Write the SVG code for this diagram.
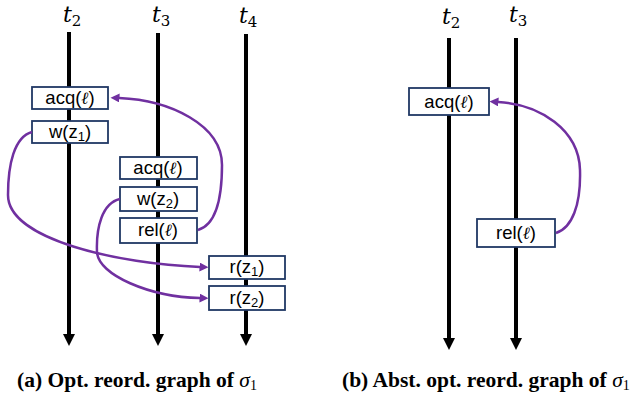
<svg xmlns="http://www.w3.org/2000/svg" width="640" height="398" viewBox="0 0 640 398">
<style>
.tl{stroke:#000;stroke-width:4;fill:none}
.box{fill:#fff;stroke:#203864;stroke-width:1.8}
.bt{font-family:"Liberation Sans","Noto Sans",sans-serif;font-size:18.5px;fill:#000;text-anchor:middle}
.ell{font-family:"DejaVu Serif","Liberation Serif",serif;font-style:italic;font-size:17px}
.sub{font-size:13px}
.th{font-family:"DejaVu Serif","Liberation Serif",serif;font-style:italic;font-size:22px;fill:#000}
.ths{font-size:15px;font-style:normal}
.cap{font-family:"Liberation Serif","DejaVu Serif",serif;font-weight:bold;font-size:21.5px;fill:#000}
.edge{stroke:#7030A0;stroke-width:2.5;fill:none;marker-end:url(#pa)}
</style>
<defs>
<marker id="ba" markerUnits="userSpaceOnUse" markerWidth="12" markerHeight="12" refX="0" refY="6" orient="auto">
<path d="M0,0 L12,6 L0,12 z" fill="#000"/>
</marker>
<marker id="pa" markerUnits="userSpaceOnUse" markerWidth="10" markerHeight="10" refX="0.5" refY="4.5" orient="auto">
<path d="M0,0 L9,4.5 L0,9 z" fill="#7030A0"/>
</marker>
</defs>

<g id="timelines">
<line class="tl" x1="69" y1="32" x2="69" y2="334" marker-end="url(#ba)"/>
<line class="tl" x1="158" y1="33" x2="158" y2="334" marker-end="url(#ba)"/>
<line class="tl" x1="246" y1="34" x2="246" y2="334" marker-end="url(#ba)"/>
<line class="tl" x1="449" y1="38" x2="449" y2="338" marker-end="url(#ba)"/>
<line class="tl" x1="516" y1="38" x2="516" y2="338" marker-end="url(#ba)"/>
</g>

<g id="labels">
<text class="th" x="63" y="22">t<tspan class="ths" dy="4">2</tspan></text>
<text class="th" x="152" y="22">t<tspan class="ths" dy="4">3</tspan></text>
<text class="th" x="239" y="23">t<tspan class="ths" dy="4">4</tspan></text>
<text class="th" x="442" y="24">t<tspan class="ths" dy="4">2</tspan></text>
<text class="th" x="509" y="22">t<tspan class="ths" dy="4">3</tspan></text>
</g>

<g id="a-acq">
<rect class="box" x="32" y="87" width="76" height="22"/>
<text class="bt" x="70" y="104">acq(<tspan class="ell">ℓ</tspan>)</text>
</g>
<g id="a-wz1">
<rect class="box" x="32" y="121" width="76" height="22"/>
<text class="bt" x="70" y="138">w(z<tspan class="sub" dy="3">1</tspan><tspan dy="-3">)</tspan></text>
</g>
<g id="a-acq3">
<rect class="box" x="120" y="157" width="77" height="22"/>
<text class="bt" x="158" y="174">acq(<tspan class="ell">ℓ</tspan>)</text>
</g>
<g id="a-wz2">
<rect class="box" x="120" y="187" width="77" height="24"/>
<text class="bt" x="158" y="205">w(z<tspan class="sub" dy="3">2</tspan><tspan dy="-3">)</tspan></text>
</g>
<g id="a-rel">
<rect class="box" x="120" y="218" width="77" height="25"/>
<text class="bt" x="158" y="236">rel(<tspan class="ell">ℓ</tspan>)</text>
</g>
<g id="a-rz1">
<rect class="box" x="209" y="256" width="76" height="23"/>
<text class="bt" x="247" y="273">r(z<tspan class="sub" dy="3">1</tspan><tspan dy="-3">)</tspan></text>
</g>
<g id="a-rz2">
<rect class="box" x="209" y="286" width="76" height="24"/>
<text class="bt" x="247" y="304">r(z<tspan class="sub" dy="3">2</tspan><tspan dy="-3">)</tspan></text>
</g>

<g id="b-acq">
<rect class="box" x="409" y="88" width="80" height="27"/>
<text class="bt" x="449" y="108">acq(<tspan class="ell">ℓ</tspan>)</text>
</g>
<g id="b-rel">
<rect class="box" x="477" y="219" width="78" height="28"/>
<text class="bt" x="516" y="239">rel(<tspan class="ell">ℓ</tspan>)</text>
</g>

<g id="connectors">
<path class="edge" d="M198,230 C215,225 222,200 222,165 C222,125 170,100 119,98"/>
<path class="edge" d="M32,132 C14,137 8,165 8,195 C8,240 120,264 200,267"/>
<path class="edge" d="M120,199 C102,203 96,228 97,252 C98,275 150,297 200,298"/>
<path class="edge" d="M556,233 C572,228 581,205 580,170 C579,130 540,104 498,102"/>
</g>

<g id="captions">
<text class="cap" x="17" y="387">(a) Opt. reord. graph of <tspan font-style="italic" font-weight="normal">σ</tspan><tspan font-weight="normal" font-size="14" dy="3">1</tspan></text>
<text class="cap" x="342" y="387">(b) Abst. opt. reord. graph of <tspan font-style="italic" font-weight="normal">σ</tspan><tspan font-weight="normal" font-size="14" dy="3">1</tspan></text>
</g>
</svg>
